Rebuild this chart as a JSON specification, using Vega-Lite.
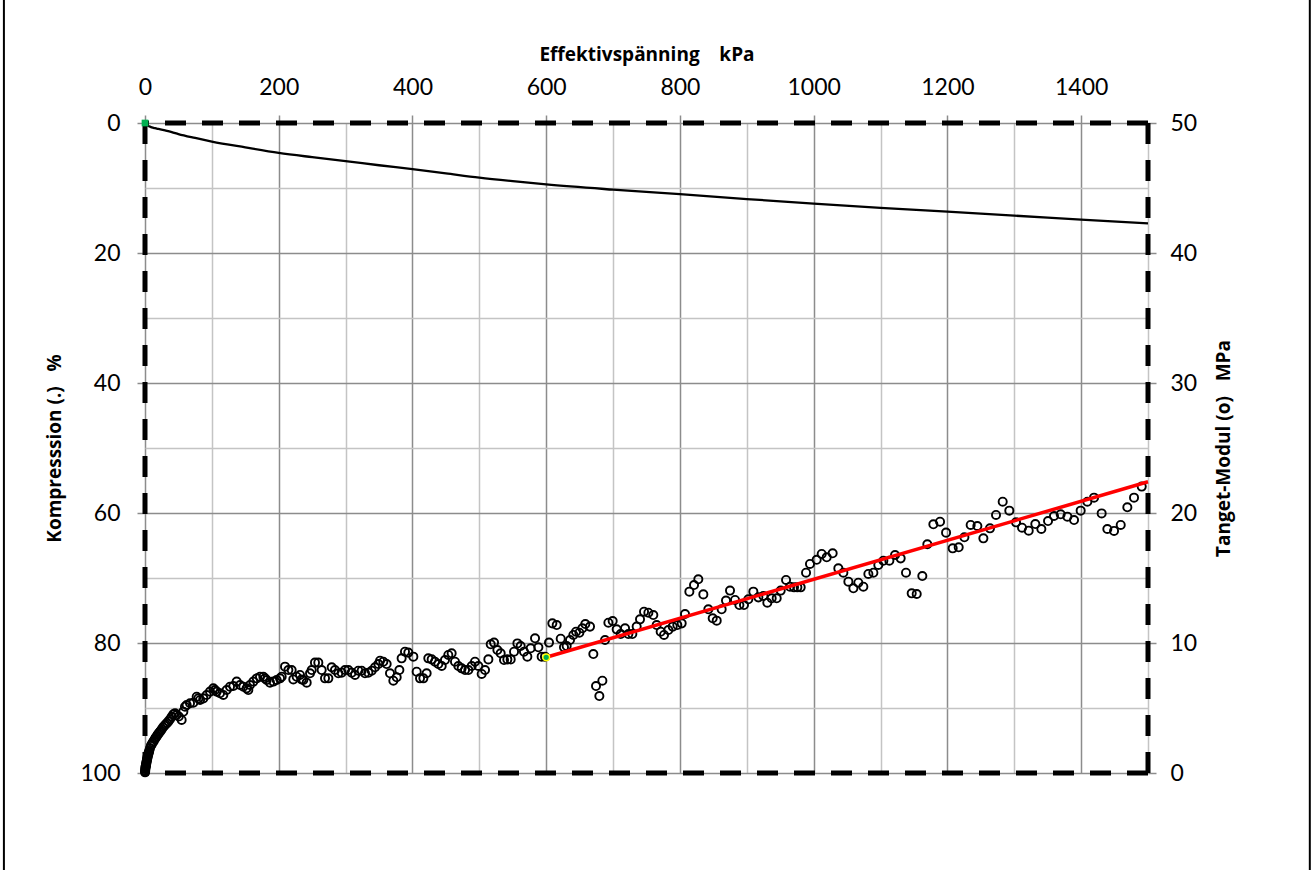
{
  "$schema": "https://vega.github.io/schema/vega-lite/v6.json",
  "width": 1003,
  "height": 650,
  "autosize": {"type": "none"},
  "padding": {"left": 145, "top": 123, "right": 164, "bottom": 97},
  "background": "white",
  "config": {
    "font": "Lato",
    "view": {"stroke": null},
    "axis": {
      "domain": false,
      "labelFont": "Lato",
      "labelFontSize": 23,
      "labelColor": "black",
      "labelFlush": false,
      "labelOverlap": false,
      "titleFont": "Open Sans",
      "titleFontSize": 19,
      "titleFontWeight": "bold",
      "titleColor": "black",
      "tickSize": 8,
      "tickWidth": 1.5,
      "tickColor": "#8c8c8c",
      "gridWidth": 1.5
    }
  },
  "datasets": {
    "kompression": [
      {"kPa": 0, "pct": 0}, {"kPa": 1, "pct": 0.15}, {"kPa": 2.5, "pct": 0.3}, {"kPa": 5, "pct": 0.45},
      {"kPa": 7.5, "pct": 0.56}, {"kPa": 10, "pct": 0.66}, {"kPa": 15, "pct": 0.8}, {"kPa": 20, "pct": 0.92},
      {"kPa": 30, "pct": 1.15}, {"kPa": 40, "pct": 1.4}, {"kPa": 50, "pct": 1.7}, {"kPa": 75, "pct": 2.3},
      {"kPa": 100, "pct": 2.85}, {"kPa": 150, "pct": 3.75}, {"kPa": 200, "pct": 4.6}, {"kPa": 250, "pct": 5.25},
      {"kPa": 300, "pct": 5.85}, {"kPa": 350, "pct": 6.5}, {"kPa": 400, "pct": 7.1}, {"kPa": 450, "pct": 7.75},
      {"kPa": 500, "pct": 8.4}, {"kPa": 550, "pct": 8.95}, {"kPa": 600, "pct": 9.45}, {"kPa": 700, "pct": 10.25},
      {"kPa": 800, "pct": 10.95}, {"kPa": 900, "pct": 11.7}, {"kPa": 1000, "pct": 12.4}, {"kPa": 1100, "pct": 13.05},
      {"kPa": 1200, "pct": 13.65}, {"kPa": 1300, "pct": 14.25}, {"kPa": 1400, "pct": 14.85}, {"kPa": 1500, "pct": 15.45}
    ],
    "start": [{"kPa": 0, "pct": 0}],
    "modul": [
      {"kPa": 0.1, "MPa": 0.05}, {"kPa": 0.2, "MPa": 0.12}, {"kPa": 0.3, "MPa": 0.2}, {"kPa": 0.5, "MPa": 0.3},
      {"kPa": 0.7, "MPa": 0.4}, {"kPa": 0.9, "MPa": 0.48}, {"kPa": 1.2, "MPa": 0.55}, {"kPa": 1.5, "MPa": 0.62}, {"kPa": 1.8, "MPa": 0.7},
      {"kPa": 2.1, "MPa": 0.8}, {"kPa": 2.5, "MPa": 0.9}, {"kPa": 2.9, "MPa": 1.0}, {"kPa": 3.3, "MPa": 1.1}, {"kPa": 3.7, "MPa": 1.2},
      {"kPa": 4.2, "MPa": 1.3}, {"kPa": 4.7, "MPa": 1.4}, {"kPa": 5.2, "MPa": 1.5}, {"kPa": 5.7, "MPa": 1.6},
      {"kPa": 6.3, "MPa": 1.7}, {"kPa": 7.5, "MPa": 1.9}, {"kPa": 8.8, "MPa": 2.1}, {"kPa": 10, "MPa": 2.2},
      {"kPa": 11.5, "MPa": 2.35}, {"kPa": 13, "MPa": 2.45}, {"kPa": 14.5, "MPa": 2.6}, {"kPa": 16, "MPa": 2.72},
      {"kPa": 17.5, "MPa": 2.82}, {"kPa": 19, "MPa": 2.95}, {"kPa": 20.5, "MPa": 3.05}, {"kPa": 22, "MPa": 3.15},
      {"kPa": 23.5, "MPa": 3.25}, {"kPa": 25, "MPa": 3.36}, {"kPa": 27, "MPa": 3.52}, {"kPa": 29, "MPa": 3.64},
      {"kPa": 31, "MPa": 3.75}, {"kPa": 33, "MPa": 3.85}, {"kPa": 35, "MPa": 3.97}, {"kPa": 37.4, "MPa": 4.13},
      {"kPa": 39.9, "MPa": 4.33}, {"kPa": 42.4, "MPa": 4.52}, {"kPa": 44.9, "MPa": 4.6}, {"kPa": 47.4, "MPa": 4.46},
      {"kPa": 50.5, "MPa": 4.35}, {"kPa": 54.8, "MPa": 4.08}, {"kPa": 57.3, "MPa": 4.72}, {"kPa": 59.8, "MPa": 5.1},
      {"kPa": 62.3, "MPa": 5.23}, {"kPa": 67.3, "MPa": 5.36}, {"kPa": 72.3, "MPa": 5.41}, {"kPa": 77.3, "MPa": 5.87},
      {"kPa": 79.8, "MPa": 5.74}, {"kPa": 82.3, "MPa": 5.62}, {"kPa": 87.2, "MPa": 5.74}, {"kPa": 92.2, "MPa": 6.0},
      {"kPa": 97.2, "MPa": 6.26}, {"kPa": 102.2, "MPa": 6.51}, {"kPa": 104.7, "MPa": 6.38}, {"kPa": 107.2, "MPa": 6.26},
      {"kPa": 112.2, "MPa": 6.13}, {"kPa": 117.1, "MPa": 6.0}, {"kPa": 122.1, "MPa": 6.38}, {"kPa": 127.1, "MPa": 6.64},
      {"kPa": 132.1, "MPa": 6.69}, {"kPa": 137.1, "MPa": 7.03}, {"kPa": 142.1, "MPa": 6.77}, {"kPa": 147.1, "MPa": 6.64},
      {"kPa": 152.0, "MPa": 6.51}, {"kPa": 154.5, "MPa": 6.38}, {"kPa": 157.0, "MPa": 6.77}, {"kPa": 162.0, "MPa": 7.03},
      {"kPa": 167.0, "MPa": 7.28}, {"kPa": 172.0, "MPa": 7.41}, {"kPa": 177.0, "MPa": 7.41}, {"kPa": 179.5, "MPa": 7.28},
      {"kPa": 182.0, "MPa": 7.15}, {"kPa": 186.9, "MPa": 6.95}, {"kPa": 191.9, "MPa": 7.03}, {"kPa": 196.9, "MPa": 7.15},
      {"kPa": 201.9, "MPa": 7.28}, {"kPa": 204.4, "MPa": 7.41}, {"kPa": 209.4, "MPa": 8.18}, {"kPa": 214.4, "MPa": 7.92},
      {"kPa": 219.3, "MPa": 7.92}, {"kPa": 221.8, "MPa": 7.2}, {"kPa": 226.8, "MPa": 7.41}, {"kPa": 231.8, "MPa": 7.54},
      {"kPa": 234.3, "MPa": 7.2}, {"kPa": 236.8, "MPa": 7.15}, {"kPa": 241.8, "MPa": 6.95}, {"kPa": 246.8, "MPa": 7.67},
      {"kPa": 249.3, "MPa": 7.92}, {"kPa": 254.2, "MPa": 8.49}, {"kPa": 259.2, "MPa": 8.49}, {"kPa": 264.2, "MPa": 7.92},
      {"kPa": 269.2, "MPa": 7.28}, {"kPa": 274.2, "MPa": 7.28}, {"kPa": 279.2, "MPa": 8.13}, {"kPa": 284.1, "MPa": 7.92},
      {"kPa": 289.1, "MPa": 7.67}, {"kPa": 294.1, "MPa": 7.72}, {"kPa": 299.1, "MPa": 7.92}, {"kPa": 304.1, "MPa": 7.92},
      {"kPa": 309.1, "MPa": 7.72}, {"kPa": 314.1, "MPa": 7.54}, {"kPa": 319.0, "MPa": 7.87}, {"kPa": 324.0, "MPa": 7.87},
      {"kPa": 329.0, "MPa": 7.67}, {"kPa": 334.0, "MPa": 7.72}, {"kPa": 339.0, "MPa": 7.87}, {"kPa": 344.0, "MPa": 8.13},
      {"kPa": 349.0, "MPa": 8.38}, {"kPa": 351.5, "MPa": 8.64}, {"kPa": 356.4, "MPa": 8.56}, {"kPa": 361.4, "MPa": 8.38},
      {"kPa": 366.4, "MPa": 7.67}, {"kPa": 371.4, "MPa": 7.1}, {"kPa": 376.4, "MPa": 7.36}, {"kPa": 380.4, "MPa": 7.92},
      {"kPa": 383.8, "MPa": 8.82}, {"kPa": 388.8, "MPa": 9.33}, {"kPa": 393.8, "MPa": 9.26}, {"kPa": 401.3, "MPa": 8.95},
      {"kPa": 406.3, "MPa": 7.79}, {"kPa": 411.3, "MPa": 7.28}, {"kPa": 416.3, "MPa": 7.28}, {"kPa": 421.2, "MPa": 7.67},
      {"kPa": 423.7, "MPa": 8.82}, {"kPa": 428.7, "MPa": 8.74}, {"kPa": 433.7, "MPa": 8.56}, {"kPa": 438.7, "MPa": 8.38},
      {"kPa": 443.7, "MPa": 8.23}, {"kPa": 448.6, "MPa": 8.69}, {"kPa": 453.6, "MPa": 9.08}, {"kPa": 458.6, "MPa": 9.21},
      {"kPa": 463.6, "MPa": 8.56}, {"kPa": 468.6, "MPa": 8.23}, {"kPa": 473.6, "MPa": 8.05}, {"kPa": 478.6, "MPa": 7.92},
      {"kPa": 483.6, "MPa": 7.92}, {"kPa": 488.6, "MPa": 8.23}, {"kPa": 493.5, "MPa": 8.56}, {"kPa": 498.5, "MPa": 8.23},
      {"kPa": 503.5, "MPa": 7.62}, {"kPa": 508.5, "MPa": 7.92}, {"kPa": 513.5, "MPa": 8.74}, {"kPa": 517.0, "MPa": 9.9},
      {"kPa": 522.0, "MPa": 10.03}, {"kPa": 527.0, "MPa": 9.46}, {"kPa": 531.9, "MPa": 9.21}, {"kPa": 536.9, "MPa": 8.69},
      {"kPa": 541.9, "MPa": 8.74}, {"kPa": 546.9, "MPa": 8.74}, {"kPa": 551.9, "MPa": 9.33}, {"kPa": 556.9, "MPa": 9.97},
      {"kPa": 561.8, "MPa": 9.77}, {"kPa": 566.8, "MPa": 9.33}, {"kPa": 571.8, "MPa": 8.95}, {"kPa": 576.8, "MPa": 9.59},
      {"kPa": 583.3, "MPa": 10.36}, {"kPa": 588.3, "MPa": 9.67}, {"kPa": 593.2, "MPa": 8.95}, {"kPa": 598.2, "MPa": 8.95},
      {"kPa": 604.2, "MPa": 10.03}, {"kPa": 609.2, "MPa": 11.51}, {"kPa": 615.7, "MPa": 11.38}, {"kPa": 621.7, "MPa": 10.33},
      {"kPa": 626.6, "MPa": 9.67}, {"kPa": 630.6, "MPa": 9.77}, {"kPa": 635.6, "MPa": 10.23}, {"kPa": 640.6, "MPa": 10.62},
      {"kPa": 644.6, "MPa": 10.87}, {"kPa": 649.6, "MPa": 10.79}, {"kPa": 654.1, "MPa": 11.13}, {"kPa": 658.5, "MPa": 11.46},
      {"kPa": 665.5, "MPa": 11.26}, {"kPa": 670.5, "MPa": 9.15}, {"kPa": 674.5, "MPa": 6.69}, {"kPa": 679.5, "MPa": 5.92},
      {"kPa": 684.0, "MPa": 7.1}, {"kPa": 688.0, "MPa": 10.23}, {"kPa": 693.0, "MPa": 11.56}, {"kPa": 699.4, "MPa": 11.69},
      {"kPa": 705.4, "MPa": 11.05}, {"kPa": 711.4, "MPa": 10.69}, {"kPa": 717.9, "MPa": 11.13}, {"kPa": 722.9, "MPa": 10.69},
      {"kPa": 728.8, "MPa": 10.69}, {"kPa": 735.3, "MPa": 11.26}, {"kPa": 740.3, "MPa": 11.82}, {"kPa": 746.3, "MPa": 12.41},
      {"kPa": 752.8, "MPa": 12.33}, {"kPa": 760.2, "MPa": 12.15}, {"kPa": 765.2, "MPa": 11.38}, {"kPa": 771.2, "MPa": 10.87},
      {"kPa": 776.2, "MPa": 10.62}, {"kPa": 782.7, "MPa": 11.0}, {"kPa": 789.2, "MPa": 11.26}, {"kPa": 796.1, "MPa": 11.38},
      {"kPa": 802.6, "MPa": 11.51}, {"kPa": 807.6, "MPa": 12.23}, {"kPa": 814.1, "MPa": 13.95}, {"kPa": 821.1, "MPa": 14.46},
      {"kPa": 827.5, "MPa": 14.9}, {"kPa": 835.0, "MPa": 13.74}, {"kPa": 842.5, "MPa": 12.59}, {"kPa": 849.0, "MPa": 11.9},
      {"kPa": 855.0, "MPa": 11.72}, {"kPa": 862.4, "MPa": 12.59}, {"kPa": 868.9, "MPa": 13.26}, {"kPa": 874.9, "MPa": 14.03},
      {"kPa": 882.4, "MPa": 13.31}, {"kPa": 888.9, "MPa": 12.92}, {"kPa": 895.8, "MPa": 12.92}, {"kPa": 902.3, "MPa": 13.36},
      {"kPa": 909.8, "MPa": 13.95}, {"kPa": 917.3, "MPa": 13.51}, {"kPa": 924.8, "MPa": 13.62}, {"kPa": 930.7, "MPa": 13.1},
      {"kPa": 937.2, "MPa": 13.44}, {"kPa": 944.7, "MPa": 13.44}, {"kPa": 950.7, "MPa": 14.03}, {"kPa": 958.7, "MPa": 14.85},
      {"kPa": 964.6, "MPa": 14.33}, {"kPa": 970.6, "MPa": 14.28}, {"kPa": 975.6, "MPa": 14.28}, {"kPa": 980.6, "MPa": 14.28},
      {"kPa": 988.6, "MPa": 15.41}, {"kPa": 994.5, "MPa": 16.08}, {"kPa": 1004.5, "MPa": 16.4}, {"kPa": 1012.0, "MPa": 16.85},
      {"kPa": 1019.5, "MPa": 16.59}, {"kPa": 1028.4, "MPa": 16.9}, {"kPa": 1036.9, "MPa": 15.74}, {"kPa": 1044.4, "MPa": 15.41},
      {"kPa": 1051.9, "MPa": 14.72}, {"kPa": 1059.4, "MPa": 14.21}, {"kPa": 1066.8, "MPa": 14.64}, {"kPa": 1074.3, "MPa": 14.33},
      {"kPa": 1081.8, "MPa": 15.31}, {"kPa": 1089.3, "MPa": 15.41}, {"kPa": 1096.7, "MPa": 16.0}, {"kPa": 1104.2, "MPa": 16.33},
      {"kPa": 1113.2, "MPa": 16.33}, {"kPa": 1121.7, "MPa": 16.77}, {"kPa": 1130.1, "MPa": 16.51}, {"kPa": 1138.1, "MPa": 15.41},
      {"kPa": 1146.6, "MPa": 13.82}, {"kPa": 1154.1, "MPa": 13.77}, {"kPa": 1162.5, "MPa": 15.15}, {"kPa": 1170.0, "MPa": 17.59},
      {"kPa": 1179.0, "MPa": 19.13}, {"kPa": 1189.0, "MPa": 19.33}, {"kPa": 1198.0, "MPa": 18.49}, {"kPa": 1207.9, "MPa": 17.28},
      {"kPa": 1216.9, "MPa": 17.36}, {"kPa": 1225.4, "MPa": 18.13}, {"kPa": 1234.8, "MPa": 19.08}, {"kPa": 1244.8, "MPa": 19.0},
      {"kPa": 1253.8, "MPa": 18.05}, {"kPa": 1263.7, "MPa": 18.82}, {"kPa": 1272.7, "MPa": 19.85}, {"kPa": 1282.7, "MPa": 20.87},
      {"kPa": 1292.6, "MPa": 20.18}, {"kPa": 1302.6, "MPa": 19.28}, {"kPa": 1311.6, "MPa": 18.87}, {"kPa": 1321.6, "MPa": 18.64},
      {"kPa": 1331.5, "MPa": 19.15}, {"kPa": 1340.5, "MPa": 18.77}, {"kPa": 1350.5, "MPa": 19.38}, {"kPa": 1359.4, "MPa": 19.77},
      {"kPa": 1369.4, "MPa": 19.9}, {"kPa": 1379.4, "MPa": 19.72}, {"kPa": 1389.4, "MPa": 19.46}, {"kPa": 1399.3, "MPa": 20.18},
      {"kPa": 1409.3, "MPa": 20.87}, {"kPa": 1419.3, "MPa": 21.18}, {"kPa": 1430.7, "MPa": 19.97}, {"kPa": 1439.2, "MPa": 18.77},
      {"kPa": 1449.2, "MPa": 18.62}, {"kPa": 1459.2, "MPa": 19.08}, {"kPa": 1469.1, "MPa": 20.44}, {"kPa": 1479.1, "MPa": 21.18},
      {"kPa": 1490.6, "MPa": 22.03}
    ],
    "trend": [{"kPa": 600, "MPa": 8.9}, {"kPa": 1500, "MPa": 22.4}],
    "trendStart": [{"kPa": 600, "MPa": 8.9}]
  },
  "layer": [
    {
      "layer": [
        {
          "data": {"name": "kompression"},
          "mark": {"type": "line", "color": "black", "strokeWidth": 2.3, "interpolate": "monotone"},
          "encoding": {
            "x": {
              "field": "kPa", "type": "quantitative",
              "scale": {"domain": [0, 1500], "nice": false, "zero": false},
              "axis": {
                "orient": "top",
                "title": "Effektivspänning\u00a0\u00a0\u00a0\u00a0kPa",
                "format": "d",
                "values": [0, 100, 200, 300, 400, 500, 600, 700, 800, 900, 1000, 1100, 1200, 1300, 1400, 1500],
                "labelExpr": "datum.value % 200 === 0 && datum.value < 1500 ? datum.label : ''",
                "labelPadding": 16,
                "titlePadding": 12,
                "grid": true,
                "gridColor": {"condition": {"test": "datum.value % 200 === 0", "value": "#8c8c8c"}, "value": "#c4c4c4"},
                "tickOpacity": {"condition": {"test": "datum.value % 200 === 0 && datum.value < 1500", "value": 1}, "value": 0}
              }
            },
            "y": {
              "field": "pct", "type": "quantitative",
              "scale": {"domain": [0, 100], "reverse": true, "nice": false, "zero": false},
              "axis": {
                "orient": "left",
                "title": "Kompresssion (.)\u00a0\u00a0\u00a0%",
                "values": [0, 10, 20, 30, 40, 50, 60, 70, 80, 90, 100],
                "labelExpr": "datum.value % 20 === 0 ? datum.label : ''",
                "labelPadding": 17,
                "titlePadding": 15,
                "grid": true,
                "gridColor": {"condition": {"test": "datum.value % 20 === 0", "value": "#8c8c8c"}, "value": "#c4c4c4"},
                "tickOpacity": {"condition": {"test": "datum.value % 20 === 0", "value": 1}, "value": 0}
              }
            }
          }
        },
        {
          "data": {"values": [{}]},
          "mark": {"type": "rule", "color": "black", "strokeWidth": 2},
          "encoding": {
            "x": {"datum": -211, "type": "quantitative", "scale": {"domain": [0, 1500], "nice": false, "zero": false}},
            "y": {"datum": -20, "type": "quantitative", "scale": {"domain": [0, 100], "reverse": true, "nice": false, "zero": false}},
            "y2": {"datum": 120}
          }
        },
        {
          "data": {"values": [{}]},
          "mark": {"type": "rule", "color": "black", "strokeWidth": 2},
          "encoding": {
            "x": {"datum": 1742, "type": "quantitative", "scale": {"domain": [0, 1500], "nice": false, "zero": false}},
            "y": {"datum": -20, "type": "quantitative", "scale": {"domain": [0, 100], "reverse": true, "nice": false, "zero": false}},
            "y2": {"datum": 120}
          }
        },
        {
          "data": {"values": [{}]},
          "mark": {"type": "rule", "color": "black", "strokeWidth": 5, "strokeDash": [21, 16], "strokeCap": "butt"},
          "encoding": {
            "y": {"datum": 0, "type": "quantitative", "scale": {"domain": [0, 100], "reverse": true, "nice": false, "zero": false}}
          }
        },
        {
          "data": {"values": [{}]},
          "mark": {"type": "rule", "color": "black", "strokeWidth": 5, "strokeDash": [21, 16], "strokeCap": "butt"},
          "encoding": {
            "y": {"datum": 100, "type": "quantitative", "scale": {"domain": [0, 100], "reverse": true, "nice": false, "zero": false}}
          }
        },
        {
          "data": {"values": [{}]},
          "mark": {"type": "rule", "color": "black", "strokeWidth": 5, "strokeDash": [21, 16], "strokeCap": "butt"},
          "encoding": {
            "x": {"datum": 0, "type": "quantitative", "scale": {"domain": [0, 1500], "nice": false, "zero": false}}
          }
        },
        {
          "data": {"values": [{}]},
          "mark": {"type": "rule", "color": "black", "strokeWidth": 5, "strokeDash": [21, 16], "strokeCap": "butt"},
          "encoding": {
            "x": {"datum": 1500, "type": "quantitative", "scale": {"domain": [0, 1500], "nice": false, "zero": false}}
          }
        },
        {
          "data": {"name": "start"},
          "mark": {"type": "point", "shape": "square", "filled": true, "color": "#00b050", "size": 45, "opacity": 1},
          "encoding": {
            "x": {"field": "kPa", "type": "quantitative", "scale": {"domain": [0, 1500], "nice": false, "zero": false}},
            "y": {"field": "pct", "type": "quantitative", "scale": {"domain": [0, 100], "reverse": true, "nice": false, "zero": false}}
          }
        }
      ]
    },
    {
      "layer": [
        {
          "data": {"name": "modul"},
          "mark": {"type": "point", "shape": "circle", "filled": false, "color": "black", "size": 66, "strokeWidth": 1.9, "opacity": 1},
          "encoding": {
            "x": {"field": "kPa", "type": "quantitative", "scale": {"domain": [0, 1500], "nice": false, "zero": false}},
            "y": {
              "field": "MPa", "type": "quantitative",
              "scale": {"domain": [0, 50], "nice": false, "zero": false},
              "axis": {
                "orient": "right",
                "title": "Tanget-Modul (o)\u00a0\u00a0\u00a0MPa",
                "titleAngle": -90,
                "titleBaseline": "top",
                "values": [0, 10, 20, 30, 40, 50],
                "labelPadding": 14,
                "titlePadding": 18,
                "grid": false
              }
            }
          }
        },
        {
          "data": {"name": "trend"},
          "mark": {"type": "line", "color": "#ff0000", "strokeWidth": 3.5},
          "encoding": {
            "x": {"field": "kPa", "type": "quantitative", "scale": {"domain": [0, 1500], "nice": false, "zero": false}},
            "y": {"field": "MPa", "type": "quantitative", "scale": {"domain": [0, 50], "nice": false, "zero": false}}
          }
        },
        {
          "data": {"name": "trendStart"},
          "mark": {"type": "point", "shape": "circle", "filled": true, "fill": "#00b050", "stroke": "#ffff00", "strokeWidth": 1.5, "size": 45, "opacity": 1},
          "encoding": {
            "x": {"field": "kPa", "type": "quantitative", "scale": {"domain": [0, 1500], "nice": false, "zero": false}},
            "y": {"field": "MPa", "type": "quantitative", "scale": {"domain": [0, 50], "nice": false, "zero": false}}
          }
        }
      ]
    }
  ],
  "resolve": {"scale": {"y": "independent"}}
}
